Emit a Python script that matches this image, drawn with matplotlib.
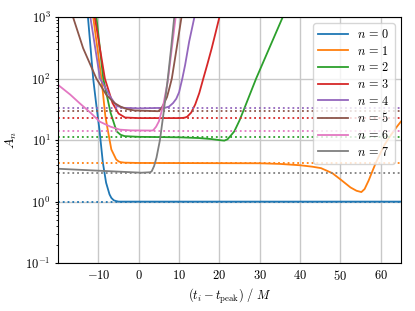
import matplotlib
matplotlib.use("Agg")
import matplotlib.pyplot as plt

plt.rcParams.update({
    "font.family": "serif",
    "font.serif": ["cmr10"],
    "mathtext.fontset": "cm",
    "axes.formatter.use_mathtext": True,
    "font.size": 9,
    "axes.unicode_minus": True,
    "xtick.major.size": 0,
    "xtick.major.pad": 4,
    "ytick.major.size": 2.5,
    "ytick.minor.size": 1.5,
    "ytick.major.pad": 3,
})

# fitted amplitude A_n vs start time (t_i - t_peak)/M
t0 = [-12.6, -11.3, -10.5, -9.75, -8.9, -8.1, -7.25, -6.8, -6.2, -5.6, -5.0, 65.0]
a0 = [1000, 100, 36, 14.8, 4.3, 2.03, 1.31, 1.15, 1.05, 1.02, 1.0, 1.0]

t1 = [-11.3, -9.25, -8.3, -7.7, -6.8, -5.6, -5.0, -4.5, -3.5, 0, 30, 35, 40, 43,
      45.2, 48, 50, 52.5, 54, 55.2, 56, 57, 58, 58.8, 60, 61, 62, 62.9, 64, 65]
a1 = [1000, 100, 25, 14.8, 7.05, 4.85, 4.5, 4.38, 4.3, 4.25, 4.2, 4.1, 3.9, 3.7,
      3.5, 2.9, 2.3, 1.7, 1.5, 1.43, 1.6, 2.2, 3.2, 4.3, 6.3, 8.5, 10.8, 13.1,
      16.5, 20]

t2 = [-10.5, -8.8, -7.0, -5.5, -4.5, -3.5, 0, 10, 15, 18, 20, 21.2, 22, 22.8,
      23.7, 25, 26.2, 29.1, 35.7]
a2 = [1000, 100, 28, 13.9, 12.2, 11.6, 11.3, 11.1, 10.8, 10.4, 10.0, 9.8, 10.3,
      11.8, 13.9, 21, 33, 100, 1000]

t3 = [-10.9, -8.4, -6.5, -5.0, -3.4, 0, 10, 11, 11.5, 12, 13, 14, 15, 16, 17,
      18.1, 19, 20]
a3 = [1000, 100, 40, 27, 23.3, 22.8, 22.8, 23.0, 23.3, 24, 28, 38, 58, 100, 170,
      313, 540, 1000]

t4 = [-12.0, -9.6, -7.0, -5.5, -3.8, 0, 6.5, 7.5, 8.5, 9.3, 10, 10.8, 11.5,
      12.5, 13.8]
a4 = [1000, 100, 50, 36, 33.5, 32.8, 33.5, 35, 40, 47, 60, 100, 167, 400, 1000]

t5 = [-16.3, -13.8, -10.5, -8.0, -6.0, -4.5, -3.0, -1.0, 4.8, 5.5, 6.1, 7.0,
      7.6, 8.2, 9.4, 10.6]
a5 = [1000, 313, 100, 54, 40, 35, 32, 30.3, 29.5, 32, 37.7, 50, 70, 100, 313,
      1000]

t6 = [-20, -17, -14.7, -12, -9.7, -7, -4.7, -2, 3.2, 3.6, 4.3, 5.0, 6.1, 7.2,
      8.2, 9.15]
a6 = [79, 55, 40, 28, 20, 16.5, 14.8, 14.4, 14.3, 14.5, 16.5, 20.2, 37.7, 90,
      313, 1000]

t7 = [-20, -7.7, 0.7, 2.8, 3.2, 3.8, 4.4, 5.25, 6.1, 7.2, 8.0, 8.8]
a7 = [3.42, 3.13, 2.95, 3.0, 3.1, 3.78, 5.2, 10, 26, 100, 300, 1000]

# true amplitudes (dotted reference lines)
a_true = [0.98, 4.2, 11.4, 22.6, 32.9, 29.4, 14.3, 2.95]

curves = [(t0, a0), (t1, a1), (t2, a2), (t3, a3),
          (t4, a4), (t5, a5), (t6, a6), (t7, a7)]

fig = plt.figure(figsize=(4.15, 3.11), dpi=100)
fig.subplots_adjust(left=0.14, right=0.966, top=0.945, bottom=0.154)
ax = fig.add_subplot(111)

for n, (t, a) in enumerate(curves):
    color = f"C{n}"
    ax.plot(t, a, color=color, lw=1.3, label=rf"$n\,=\,{n}$")
    ax.axhline(a_true[n], color=color, ls=":", lw=1.3)

ax.set_yscale("log")
ax.set_xlim(-20, 65)
ax.set_ylim(1e-1, 1e3)
ax.set_xticks([-10, 0, 10, 20, 30, 40, 50, 60])
ax.grid(True, which="major", color="#c8c8c8", lw=1.0)
ax.set_axisbelow(True)
ax.set_xlabel(r"$(t_i - t_{\rm peak})\ /\ M$", labelpad=3)
ax.set_ylabel(r"$A_n$", fontsize=10)
ax.legend(loc="upper right", fontsize=8.8, labelspacing=0.3,
          handlelength=2.4)

fig.savefig("out.png", dpi=100)
